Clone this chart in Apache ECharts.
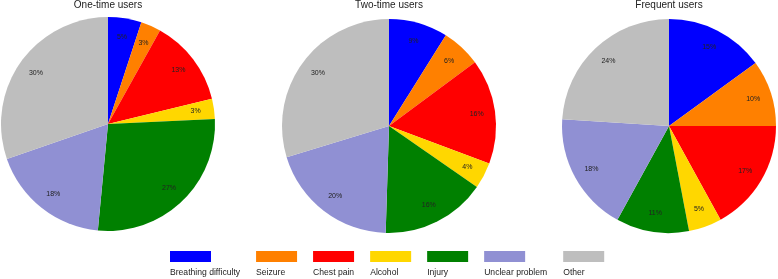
<!DOCTYPE html>
<html>
<head>
<meta charset="utf-8">
<script src="https://cdn.jsdelivr.net/npm/echarts@6/dist/echarts.min.js"></script>
<style>
  html, body { margin: 0; padding: 0; background: #fff; }
  #chart { width: 778px; height: 279px; }
</style>
</head>
<body>
<div id="chart"></div>
<script>
// categories and shares (%)
const categories = ['Breathing difficulty', 'Seizure', 'Chest pain', 'Alcohol', 'Injury', 'Unclear problem', 'Other'];
const colors = ['#0000ff', '#ff8000', '#ff0000', '#ffd700', '#008000', '#9090d3', '#bebebe'];

const groups = ['One-time users', 'Two-time users', 'Frequent users'];
const oneTime = [5, 3, 13, 3, 27, 18, 30];
const twoTime = [9, 6, 16, 4, 16, 20, 30];
const frequent = [15, 10, 17, 5, 11, 18, 24];
const allValues = [oneTime, twoTime, frequent];

const FONT = 'Liberation Sans, Arial, sans-serif';
const centers = [[108, 124], [389, 126], [669, 126]];
const R = 107;

const chart = echarts.init(document.getElementById('chart'));

function toData(vals) {
  return vals.map((v, i) => ({ name: categories[i], value: v }));
}

const series = [];
const titles = [];
allValues.forEach((vals, k) => {
  // filled pie, no labels
  series.push({
    type: 'pie',
    center: centers[k],
    radius: [0, R],
    startAngle: 90,
    clockwise: true,
    label: { show: false },
    labelLine: { show: false },
    itemStyle: { borderWidth: 0 },
    emphasis: { disabled: true },
    data: toData(vals)
  });
  // transparent ring just to place the percent labels further out
  series.push({
    type: 'pie',
    center: centers[k],
    radius: [64, R],
    startAngle: 90,
    clockwise: true,
    silent: true,
    itemStyle: { color: 'rgba(0,0,0,0)', borderWidth: 0 },
    label: {
      show: true,
      position: 'inside',
      formatter: '{c}%',
      fontFamily: FONT,
      fontSize: 7,
      color: '#222'
    },
    labelLine: { show: false },
    emphasis: { disabled: true },
    data: toData(vals)
  });
  titles.push({
    text: groups[k],
    left: centers[k][0],
    top: 0,
    textAlign: 'center',
    padding: 0,
    textStyle: { fontFamily: FONT, fontSize: 10, fontWeight: 'normal', color: '#222' }
  });
});

// legend: colour box with the name underneath, placed by text width
const ctx = document.createElement('canvas').getContext('2d');
ctx.font = '8.6px ' + FONT;
const legends = [];
const graphics = [];
let x = 170;
categories.forEach((name, i) => {
  const w = ctx.measureText(name).width;
  legends.push({
    data: [name],
    left: x,
    top: 251,
    padding: 0,
    icon: 'rect',
    itemWidth: 41,
    itemHeight: 11,
    formatter: () => '',
    selectedMode: false
  });
  graphics.push({
    type: 'text',
    left: x,
    top: 268,
    style: { text: name, font: '8.6px ' + FONT, fill: '#222' }
  });
  x += Math.max(41, w) + 16;
});

chart.setOption({
  animation: false,
  color: colors,
  title: titles,
  legend: legends,
  graphic: graphics,
  series: series
});
</script>
</body>
</html>
